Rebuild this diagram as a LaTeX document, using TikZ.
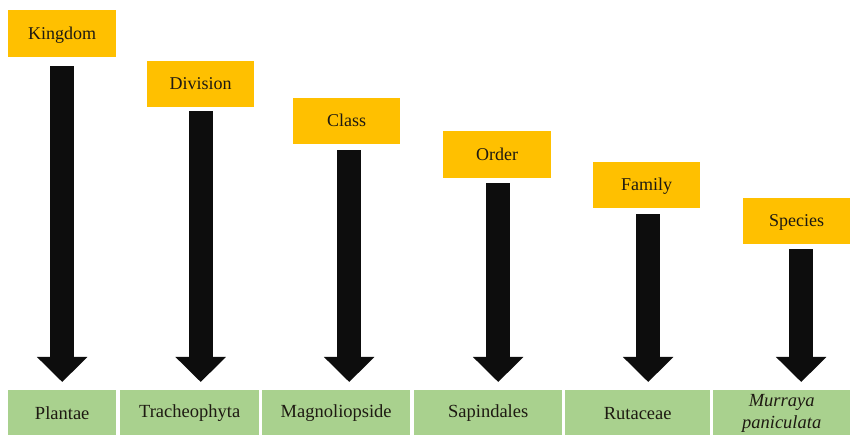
\documentclass[tikz,border=0pt]{standalone}
\usepackage{fontspec}
\setmainfont{Liberation Serif}
\usetikzlibrary{arrows.meta}
\definecolor{gold}{HTML}{FFC000}
\definecolor{leaf}{HTML}{A9D18E}
\definecolor{arrowblack}{HTML}{0D0D0D}
\definecolor{txt}{HTML}{1E1A12}
\tikzset{
  rankbox/.style={fill=gold, inner sep=0pt, anchor=north west, text=txt, font=\fontsize{18}{20}\selectfont, text depth=1pt},
  taxbox/.style={fill=leaf, inner sep=0pt, anchor=north west, text=txt, font=\fontsize{18.5}{21}\selectfont, align=center},
  bigarrow/.style={draw=arrowblack, line width=24pt, -{Triangle[width=49pt,length=25pt,fill=arrowblack]}},
}
\begin{document}
\begin{tikzpicture}[x=1pt,y=-1pt]
\useasboundingbox[fill=white] (0,0) rectangle (852,435);
% rank boxes
\node[rankbox, minimum width=108pt, minimum height=47pt] (k) at (8,10) {Kingdom};
\node[rankbox, minimum width=107pt, minimum height=46pt] (d) at (147,61) {Division};
\node[rankbox, minimum width=107pt, minimum height=46pt] (c) at (293,98) {Class};
\node[rankbox, minimum width=108pt, minimum height=47pt] (o) at (443,131) {Order};
\node[rankbox, minimum width=107pt, minimum height=46pt] (f) at (593,162) {Family};
\node[rankbox, minimum width=107pt, minimum height=46pt] (s) at (743,198) {Species};
% taxon boxes
\node[taxbox, minimum width=108pt, minimum height=46pt] (t1) at (8,390) {Plantae};
\node[taxbox, minimum width=139pt, minimum height=46pt] (t2) at (120,390) {Tracheophyta};
\node[taxbox, minimum width=148pt, minimum height=46pt] (t3) at (262,390) {Magnoliopside};
\node[taxbox, minimum width=148pt, minimum height=46pt] (t4) at (414,390) {Sapindales};
\node[taxbox, minimum width=145pt, minimum height=46pt] (t5) at (565,390) {Rutaceae};
\node[taxbox, minimum width=137pt, minimum height=46pt, font=\fontsize{18.5}{22}\selectfont\itshape] (t6) at (713,390) {Murraya\\paniculata};
% tip line
\coordinate (tip) at (0,382);
% arrows
\draw[bigarrow] ([yshift=-9pt]k.south) -- (k.south |- tip);
\draw[bigarrow] ([yshift=-4pt]d.south) -- (d.south |- tip);
\draw[bigarrow] ([xshift=2.5pt,yshift=-6pt]c.south) -- ([xshift=2.5pt]c.south |- tip);
\draw[bigarrow] ([xshift=1pt,yshift=-5pt]o.south) -- ([xshift=1pt]o.south |- tip);
\draw[bigarrow] ([xshift=1.5pt,yshift=-6pt]f.south) -- ([xshift=1.5pt]f.south |- tip);
\draw[bigarrow] ([xshift=4.5pt,yshift=-5pt]s.south) -- ([xshift=4.5pt]s.south |- tip);
\end{tikzpicture}
\end{document}
